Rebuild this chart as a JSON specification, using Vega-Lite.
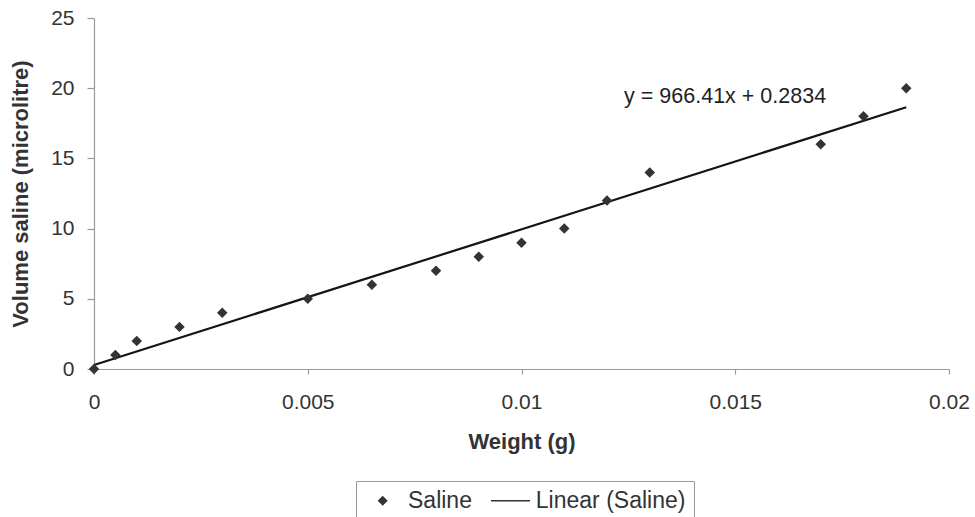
{
  "$schema": "https://vega.github.io/schema/vega-lite/v6.json",
  "width": 855,
  "height": 351,
  "autosize": "none",
  "padding": {"left": 94, "top": 18, "right": 26, "bottom": 148},
  "background": "white",
  "config": {
    "view": {"stroke": null},
    "font": "Liberation Sans",
    "axis": {"grid": false, "domainColor": "#9a9a9a", "tickColor": "#9a9a9a", "domainWidth": 1.2, "tickWidth": 1.2, "labelColor": "#333333", "titleColor": "#333333", "labelFont": "Liberation Sans", "titleFont": "Liberation Sans"}
  },
  "datasets": {
    "saline": [
      {"weight": 0, "volume": 0, "series": "Saline"},
      {"weight": 0.0005, "volume": 1, "series": "Saline"},
      {"weight": 0.001, "volume": 2, "series": "Saline"},
      {"weight": 0.002, "volume": 3, "series": "Saline"},
      {"weight": 0.003, "volume": 4, "series": "Saline"},
      {"weight": 0.005, "volume": 5, "series": "Saline"},
      {"weight": 0.0065, "volume": 6, "series": "Saline"},
      {"weight": 0.008, "volume": 7, "series": "Saline"},
      {"weight": 0.009, "volume": 8, "series": "Saline"},
      {"weight": 0.01, "volume": 9, "series": "Saline"},
      {"weight": 0.011, "volume": 10, "series": "Saline"},
      {"weight": 0.012, "volume": 12, "series": "Saline"},
      {"weight": 0.013, "volume": 14, "series": "Saline"},
      {"weight": 0.017, "volume": 16, "series": "Saline"},
      {"weight": 0.018, "volume": 18, "series": "Saline"},
      {"weight": 0.019, "volume": 20, "series": "Saline"}
    ],
    "equation": [
      {"weight": 0.0124, "volume": 19.35, "label": "y = 966.41x + 0.2834"}
    ]
  },
  "layer": [
    {
      "data": {"name": "saline"},
      "transform": [{"regression": "volume", "on": "weight"}],
      "mark": {"type": "line", "color": "#151515", "strokeWidth": 2.2},
      "encoding": {
        "x": {"field": "weight", "type": "quantitative"},
        "y": {"field": "volume", "type": "quantitative"}
      }
    },
    {
      "data": {"name": "saline"},
      "mark": {"type": "point", "filled": true, "opacity": 1, "color": "#333333", "size": 110},
      "encoding": {
        "x": {
          "field": "weight", "type": "quantitative",
          "scale": {"domain": [0, 0.02], "nice": false, "zero": true},
          "axis": {"values": [0, 0.005, 0.01, 0.015, 0.02], "format": "~g", "title": "Weight (g)", "labelFontSize": 21, "titleFontSize": 22, "titleFontWeight": "bold", "tickSize": 5, "labelPadding": 17, "titlePadding": 19, "labelFlush": false, "labelOverlap": false}
        },
        "y": {
          "field": "volume", "type": "quantitative",
          "scale": {"domain": [0, 25], "nice": false},
          "axis": {"values": [0, 5, 10, 15, 20, 25], "title": "Volume saline (microlitre)", "labelFontSize": 21, "titleFontSize": 22, "titleFontWeight": "bold", "tickSize": 7, "labelPadding": 13, "titlePadding": 18, "labelFlush": false}
        },
        "shape": {
          "field": "series", "type": "nominal",
          "scale": {"domain": ["Saline", "Linear (Saline)"], "range": ["M0,-1L1,0L0,1L-1,0Z", "M-3.9,-0.16L3.9,-0.16L3.9,0.16L-3.9,0.16Z"]},
          "legend": {
            "title": null, "orient": "none", "legendX": 262, "legendY": 463, "direction": "horizontal", "columns": 2,
            "strokeColor": "#9a9a9a", "padding": 8, "fillColor": "white",
            "symbolSize": 100, "symbolOffset": 7.2, "symbolFillColor": "#1a1a1a",
            "labelFontSize": 23, "labelColor": "#333333", "labelOffset": 13.8, "columnPadding": 15.8, "labelFont": "Liberation Sans",
            "encode": {
              "symbols": {
                "update": {
                  "size": {"signal": "datum.value === 'Saline' ? 55 : 100"}
                }
              }
            }
          }
        }
      }
    },
    {
      "data": {"name": "equation"},
      "mark": {"type": "text", "align": "left", "baseline": "middle", "fontSize": 21.5, "color": "#222222", "font": "Liberation Sans"},
      "encoding": {
        "x": {"field": "weight", "type": "quantitative"},
        "y": {"field": "volume", "type": "quantitative"},
        "text": {"field": "label"}
      }
    }
  ]
}
